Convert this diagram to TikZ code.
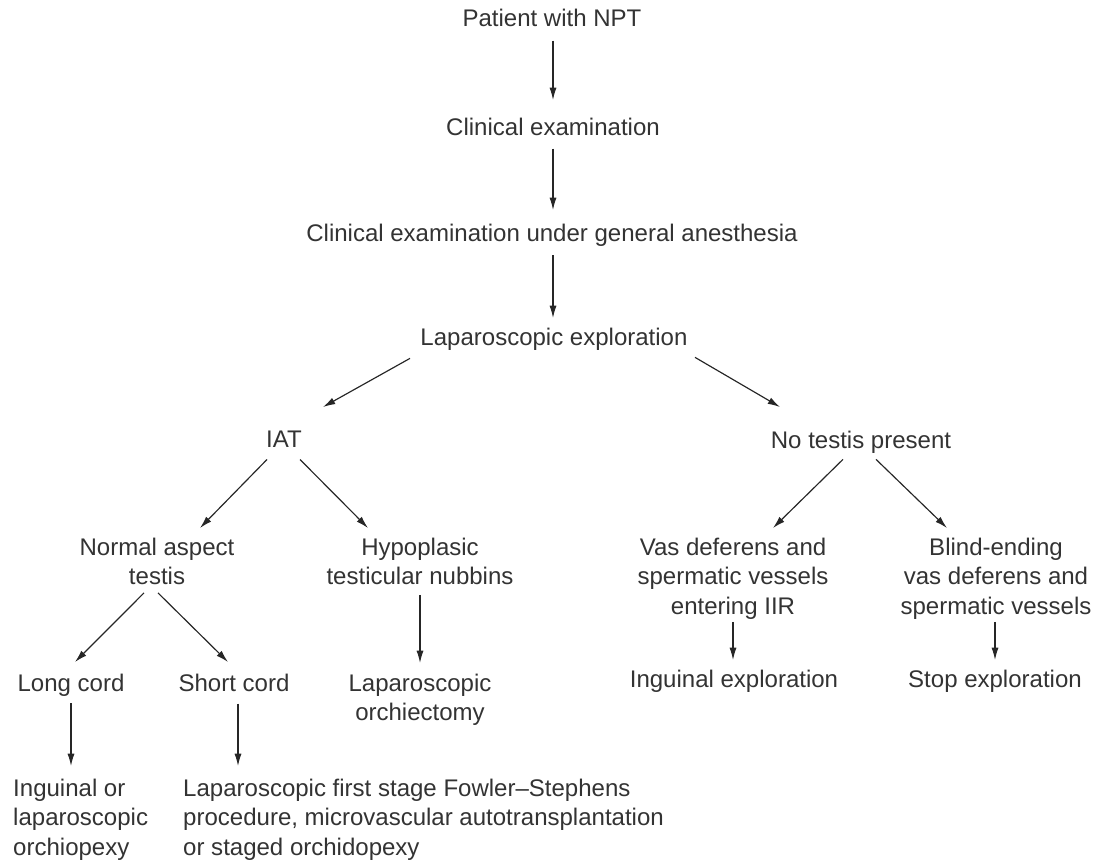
\documentclass[tikz,border=0pt]{standalone}
\usepackage{fontspec}
\setmainfont{Liberation Sans}
\usetikzlibrary{arrows.meta,positioning}
\definecolor{ink}{HTML}{333333}
\tikzset{txt/.style={inner sep=0pt,anchor=north,align=center,text=ink,font=\fontsize{20.5}{25}\selectfont}}
\tikzset{txtl/.style={txt,anchor=north west,align=left}}
\tikzset{arr/.style={-{Latex[length=10.5pt,width=6pt]},line width=1pt,draw=black!85}}

\begin{document}
\begin{tikzpicture}[x=0.03cm,y=-0.03cm]
  \useasboundingbox (0,0) rectangle (1096,859);
  % main chain
  \node[txt] (pat)  at (552,9)   {Patient with NPT};
  \node[txt] (clin) at (553,118) {Clinical examination};
  \node[txt] (cega) at (552,224) {Clinical examination under general anesthesia};
  \node[txt] (lap)  at (554,328) {Laparoscopic exploration};
  % second level
  \node[txt] (iat) at (284,431) {IAT};
  \node[txt] (nt)  at (861,431) {No testis present};
  \node[txt] (nat)   at (157,538) {Normal aspect\\testis};
  \node[txt] (hyp)   at (420,538) {Hypoplasic\\testicular nubbins};
  \node[txt] (vas)   at (733,538) {Vas deferens and\\spermatic vessels\\entering IIR};
  \node[txt] (blind) at (996,538) {Blind-ending\\vas deferens and\\spermatic vessels};
  % outcomes
  \node[txt] (lc) at (71,674)  {Long cord};
  \node[txt] (sc) at (234,674) {Short cord};
  \node[txt] (lo) at (420,674) {Laparoscopic\\orchiectomy};
  \node[txt] (ie) at (734,670) {Inguinal exploration};
  \node[txt] (se) at (995,670) {Stop exploration};
  \node[txtl] (ilo) at (13,779)  {Inguinal or\\laparoscopic\\orchiopexy};
  \node[txtl] (lfs) at (183,779) {Laparoscopic first stage Fowler--Stephens\\procedure, microvascular autotransplantation\\or staged orchidopexy};

  \draw[arr] ([shift={(1,13.5)}]pat.south) -- ([shift={(0,-18)}]clin.north);
  \draw[arr] ([shift={(0,12.5)}]clin.south) -- ([shift={(1,-14)}]cega.north);
  \draw[arr] ([shift={(1,8.5)}]cega.south) -- ([shift={(-1,-10)}]lap.north);
  \draw[arr] ([shift={(-144,7.5)}]lap.south) -- ([shift={(39,-24)}]iat.north);
  \draw[arr] ([shift={(141,6.5)}]lap.south) -- ([shift={(-81,-24)}]nt.north);
  \draw[arr] ([shift={(-17,11.5)}]iat.south) -- ([shift={(43,-10)}]nat.north);
  \draw[arr] ([shift={(16,11.5)}]iat.south) -- ([shift={(-52,-10)}]hyp.north);
  \draw[arr] ([shift={(-18,5.5)}]nt.south) -- ([shift={(40,-10)}]vas.north);
  \draw[arr] ([shift={(15,5.5)}]nt.south) -- ([shift={(-49,-10)}]blind.north);
  \draw[arr] ([shift={(-13,7.5)}]nat.south) -- ([shift={(4,-12)}]lc.north);
  \draw[arr] ([shift={(1,7.5)}]nat.south) -- ([shift={(-6,-12)}]sc.north);
  \draw[arr] ([shift={(0,9.5)}]hyp.south) -- ([shift={(0,-11)}]lo.north);
  \draw[arr] ([shift={(0,2.5)}]vas.south) -- ([shift={(-1,-10)}]ie.north);
  \draw[arr] ([shift={(-1,2.5)}]blind.south) -- ([shift={(0,-10)}]se.north);
  \draw[arr] ([shift={(0,6.5)}]lc.south) -- ([shift={(58,-13)}]ilo.north west);
  \draw[arr] ([shift={(4,11.5)}]sc.south) -- ([shift={(55,-13)}]lfs.north west);
\end{tikzpicture}
\end{document}
